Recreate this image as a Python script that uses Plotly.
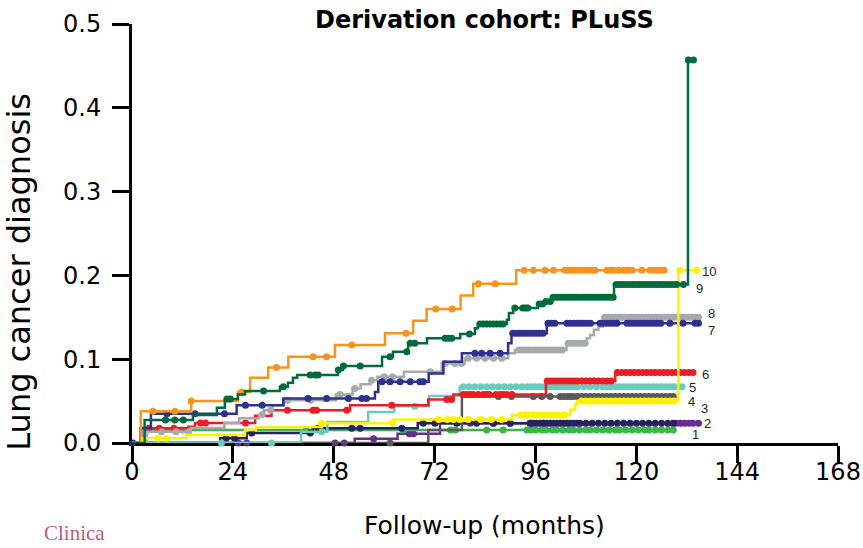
import numpy as np
import plotly.graph_objects as go

month_ticks = [0, 24, 48, 72, 96, 120, 144, 168]
risk_ticks = [0.0, 0.1, 0.2, 0.3, 0.4, 0.5]

# ---- decile 1 (green)
d1_t = [0, 3.0]
d1_y = [0, 0.0155]
d1_end = 128.8
d1_cens = [12.0, 41.5, 64.5, 75.8, 77.0, 84.4, 88.3, 94.0, 95.0, 96.0, 97.5, 98.5, 100.0, 101.0,
           102.5, 104.0, 105.0, 106.5, 108.0, 109.0, 110.5, 112.0, 113.5, 115.0, 116.0, 117.5,
           119.0, 120.5, 122.0, 123.0, 124.5, 126.0, 127.5, 128.8]

# ---- decile 2 (dark navy)
d2_t = [0, 21.0, 27.3, 43.0, 68.0]
d2_y = [0, 0.0056, 0.012, 0.0175, 0.0235]
d2_end = 128.8
d2_cens = [0.2, 22.4, 24.4, 28.5, 42.4, 44.3, 52.3, 54.3, 64.2, 69.3, 72.1, 77.3, 82.0, 86.0, 90.0,
           94.7, 95.5, 96.3, 97.1, 97.9, 98.7, 99.5, 100.3, 101.1, 101.9, 102.7, 103.5, 104.3,
           105.1, 105.9, 106.6, 108.0, 109.5, 111.0, 112.5, 114.0, 115.5, 117.0, 118.5, 120.0,
           121.5, 123.0, 124.5, 126.0, 127.5, 128.8]

# ---- extra low-risk curve (purple)
dp_t = [0, 53.0, 63.2, 73.3]
dp_y = [0, 0.005, 0.011, 0.0235]
dp_end = 134.8
dp_cens = [25.3, 27.3, 48.3, 50.5, 57.5, 66.0, 67.0, 80.5, 86.0, 90.0, 95.0, 98.0, 129.5, 130.5,
           131.5, 132.5, 133.5, 134.8]

# ---- decile 3 (yellow)
d3_t = [0, 2.5, 12.9, 26.9, 29.5, 45.1, 62.2, 90.4, 104.3, 105.4, 105.9, 130.0]
d3_y = [0, 0.0056, 0.0095, 0.0155, 0.019, 0.0235, 0.028, 0.0335, 0.040, 0.046, 0.050, 0.206]
d3_end = 135.2
d3_cens = [6.2, 8.2, 45.1, 62.0, 73.0, 75.0, 76.5, 78.0, 80.0, 83.0, 85.5, 88.0, 92.5, 93.5, 94.5,
           95.5, 96.5, 97.5, 98.5, 99.5, 100.5, 101.5, 102.5, 103.0, 107.0, 108.0, 109.0, 110.0,
           111.0, 112.0, 113.0, 114.0, 115.0, 116.0, 117.0, 118.0, 119.0, 120.0, 121.0, 122.0,
           123.0, 124.0, 125.0, 126.0, 127.0, 128.0, 129.0, 130.4, 134.4]

# ---- decile 4 (dark grey)
d4_t = [0, 70.5, 78.5]
d4_y = [0, 0.0155, 0.0555]
d4_end = 128.8
d4_cens = [61.4, 87.2, 90.3, 95.5, 97.5, 99.5, 101.9, 102.7, 103.5, 104.3, 105.1, 106.0, 107.0,
           108.0, 109.0, 110.0, 111.0, 112.0, 113.0, 114.0, 115.0, 116.0, 117.0, 118.0, 119.0,
           120.0, 121.0, 122.0, 123.0, 124.0, 125.0, 126.0, 127.0, 128.0, 128.8]

# ---- decile 5 (teal)
d5_t = [0, 40.2, 46.5, 56.2, 62.4, 70.7, 78.0]
d5_y = [0, 0.0135, 0.025, 0.037, 0.044, 0.056, 0.067]
d5_end = 130.9
d5_cens = [21.3, 33.2, 45.2, 67.3, 78.8, 80.2, 81.6, 83.0, 84.4, 85.8, 87.2, 88.6, 90.0, 91.4,
           92.8, 94.0, 95.0, 96.0, 97.0, 98.0, 99.0, 100.0, 101.0, 102.0, 103.0, 104.0, 105.0,
           106.0, 107.5, 109.0, 110.5, 112.0, 113.0, 114.0, 115.0, 116.0, 117.0, 118.0, 119.0,
           120.0, 121.0, 122.0, 123.0, 124.0, 125.0, 126.0, 127.0, 128.0, 129.0, 130.0, 130.9]

# ---- decile 6 (red)
d6_t = [0, 2.0, 13.4, 15.0, 29.3, 33.2, 51.9, 70.5, 76.5, 98.5, 115.0]
d6_y = [0, 0.0175, 0.0195, 0.024, 0.0326, 0.039, 0.045, 0.052, 0.058, 0.074, 0.084]
d6_end = 133.5
d6_cens = [4.0, 6.5, 10.0, 16.3, 17.5, 27.0, 37.0, 43.1, 43.9, 51.1, 61.8, 74.9, 76.0, 78.8, 79.6,
           80.4, 81.2, 82.4, 83.6, 84.4, 85.0, 86.6, 87.6, 88.3, 89.2, 90.4, 98.8, 99.6, 100.4,
           101.2, 102.0, 102.8, 103.6, 104.4, 105.2, 106.0, 107.0, 108.0, 109.0, 110.0, 111.0,
           112.0, 113.0, 114.0, 115.5, 116.5, 117.5, 118.5, 119.5, 120.5, 121.5, 122.5, 123.5,
           124.5, 125.5, 126.5, 127.5, 128.5, 129.5, 130.5, 131.5, 132.5, 133.5]

# ---- decile 7 (navy)
d7_t = [0, 2.2, 4.5, 24.9, 36.0, 57.8, 58.6, 70.6, 74.1, 78.5, 89.5, 90.3, 98.7]
d7_y = [0, 0.018, 0.035, 0.045, 0.053, 0.061, 0.073, 0.083, 0.097, 0.107, 0.119, 0.131, 0.143]
d7_end = 134.8
d7_cens = [8.3, 15.0, 22.0, 27.0, 31.0, 41.9, 46.3, 51.5, 54.7, 55.8, 59.5, 61.4, 63.8, 66.2, 68.5,
           69.3, 81.6, 83.2, 85.2, 87.6, 90.6, 91.4, 92.2, 93.0, 93.8, 94.6, 95.4, 96.2, 97.0,
           97.8, 99.0, 99.8, 100.6, 103.5, 104.3, 105.1, 105.9, 106.7, 107.5, 108.3, 109.1,
           111.4, 112.2, 113.0, 113.8, 114.6, 115.4, 117.8, 118.6, 119.4, 120.2, 121.0, 121.8,
           122.6, 123.4, 124.2, 125.0, 125.8, 128.0, 131.1, 134.0, 134.8]

# ---- decile 8 (light grey)
d8_t = [0, 3.5, 14.0, 22.0, 25.5, 30.2, 31.4, 33.5, 36.2, 48.5, 52.5, 54.4, 56.8, 58.4, 64.7,
        73.7, 79.2, 89.5, 91.1, 103.4, 108.2, 109.0, 109.9, 111.0, 112.0]
d8_y = [0, 0.0135, 0.018, 0.024, 0.0295, 0.034, 0.039, 0.045, 0.051, 0.058, 0.065, 0.070, 0.075,
        0.079, 0.085, 0.095, 0.101, 0.107, 0.111, 0.119, 0.125, 0.129, 0.135, 0.139, 0.150]
d8_end = 134.8
d8_cens = [7.0, 10.5, 13.5, 31.0, 33.0, 37.0, 42.5, 49.5, 53.0, 57.0, 60.0, 62.0, 71.0, 74.5, 76.8,
           78.4, 80.0, 82.0, 84.0, 86.0, 88.0, 92.0, 92.8, 93.6, 94.4, 95.2, 96.0, 96.8, 97.6,
           98.4, 99.2, 100.0, 100.8, 101.6, 102.4, 103.8, 104.6, 105.4, 106.2, 107.0, 107.8,
           112.5, 113.3, 114.1, 114.9, 115.7, 116.5, 117.3, 118.1, 118.9, 119.7, 120.5, 121.3,
           122.1, 122.9, 123.7, 124.5, 125.3, 126.1, 126.9, 127.7, 128.5, 129.3, 130.1, 130.9,
           131.7, 132.5, 133.3, 134.1, 134.8]

# ---- decile 9 (dark green)
d9_t = [0, 3.0, 14.5, 20.2, 22.1, 25.2, 26.9, 35.2, 37.1, 38.3, 39.3, 49.0, 50.2, 59.5, 62.1,
        65.7, 70.2, 78.1, 81.6, 82.3, 89.2, 89.7, 90.7, 96.6, 98.3, 100.0, 114.7, 132.3]
d9_y = [0, 0.0274, 0.0334, 0.042, 0.0525, 0.058, 0.062, 0.067, 0.072, 0.078, 0.081, 0.087, 0.092,
        0.103, 0.109, 0.119, 0.125, 0.130, 0.137, 0.142, 0.147, 0.155, 0.161, 0.166, 0.169,
        0.174, 0.189, 0.457]
d9_end = 133.6
d9_cens = [8.0, 10.2, 12.2, 22.6, 23.4, 31.3, 36.0, 42.4, 43.6, 44.3, 49.1, 50.3, 54.3, 61.4, 65.4,
           66.2, 67.3, 74.5, 75.3, 76.1, 80.3, 82.8, 83.6, 84.4, 85.2, 86.0, 86.8, 87.6, 88.3,
           91.1, 93.0, 93.6, 94.2, 96.9, 97.7, 98.5, 99.5, 100.2, 101.0, 101.8, 102.6, 103.4,
           104.2, 105.0, 105.8, 106.6, 107.4, 108.2, 109.0, 109.8, 110.6, 111.4, 112.2, 113.0,
           113.8, 114.5, 115.2, 116.0, 116.8, 117.6, 118.4, 119.2, 120.0, 120.8, 121.6, 122.4,
           123.2, 124.0, 124.8, 125.6, 126.4, 127.2, 128.0, 128.8, 129.6, 131.2, 132.4, 133.6]

# ---- decile 10 (orange)
d10_t = [0, 2.1, 14.1, 25.2, 28.1, 32.4, 37.2, 48.3, 60.2, 66.9, 70.1, 78.2, 81.2, 91.4]
d10_y = [0, 0.038, 0.050, 0.061, 0.078, 0.090, 0.103, 0.117, 0.131, 0.146, 0.160, 0.176, 0.190,
         0.206]
d10_end = 126.8
d10_cens = [5.0, 10.2, 14.1, 26.1, 34.4, 43.1, 46.3, 52.3, 65.2, 72.3, 76.2, 82.4, 86.4, 93.3,
            95.5, 98.3, 100.3, 103.0, 103.8, 104.6, 105.4, 106.2, 107.0, 107.8, 108.6, 109.4,
            110.2, 113.0, 113.8, 114.6, 115.8, 117.0, 118.0, 119.0, 121.3, 123.3, 124.2, 125.0,
            125.8, 126.6]

# end-of-curve labels
label_text = ["10", "9", "8", "7", "6", "5", "4", "3", "2", "1"]
label_x = [135.2, 133.7, 136.5, 136.5, 135.2, 132.0, 131.8, 135.0, 135.6, 132.8]
label_y = [0.2044, 0.184, 0.154, 0.134, 0.0823, 0.0668, 0.0501, 0.0406, 0.0227, 0.0107]

series = [
    (dp_t, dp_y, dp_end, dp_cens, "#662D91"),
    (d1_t, d1_y, d1_end, d1_cens, "#39B54A"),
    (d2_t, d2_y, d2_end, d2_cens, "#262262"),
    (d4_t, d4_y, d4_end, d4_cens, "#58595B"),
    (d5_t, d5_y, d5_end, d5_cens, "#6CCBBF"),
    (d6_t, d6_y, d6_end, d6_cens, "#ED1C24"),
    (d8_t, d8_y, d8_end, d8_cens, "#A7A9AC"),
    (d7_t, d7_y, d7_end, d7_cens, "#2E3192"),
    (d10_t, d10_y, d10_end, d10_cens, "#F7941D"),
    (d3_t, d3_y, d3_end, d3_cens, "#FFF200"),
    (d9_t, d9_y, d9_end, d9_cens, "#006B3C"),
]

fig = go.Figure()
for t, y, end, cens, color in series:
    xs = list(t) + [end]
    ys = list(y) + [y[-1]]
    fig.add_trace(go.Scatter(x=xs, y=ys, mode="lines", line=dict(shape="hv", color=color, width=2.5),
                             showlegend=False, hoverinfo="skip", cliponaxis=False))
    ta = np.array(t)
    ya = np.array(y)
    idx = np.searchsorted(ta, np.array(cens), side="right") - 1
    fig.add_trace(go.Scatter(x=cens, y=ya[idx], mode="markers",
                             marker=dict(color=color, size=7, line=dict(width=0)),
                             showlegend=False, hoverinfo="skip", cliponaxis=False))

FONT = "DejaVu Sans"
annotations = []
for txt, lx, ly in zip(label_text, label_x, label_y):
    annotations.append(dict(x=lx, y=ly, xref="x", yref="y", text=txt, showarrow=False,
                            xanchor="left", yanchor="middle",
                            font=dict(family="Liberation Sans", size=13, color="#231F20")))

annotations += [
    dict(x=0.4986, y=1.0095, xref="paper", yref="paper", text="<b>Derivation cohort: PLuSS</b>",
         showarrow=False, xanchor="center", yanchor="middle",
         font=dict(family=FONT, size=24, color="black")),
    dict(x=0.4986, y=-0.197, xref="paper", yref="paper", text="Follow-up (months)",
         showarrow=False, xanchor="center", yanchor="middle",
         font=dict(family=FONT, size=25, color="black")),
    dict(x=-0.16, y=0.409, xref="paper", yref="paper", text="Lung cancer diagnosis",
         showarrow=False, xanchor="center", yanchor="middle", textangle=-90,
         font=dict(family=FONT, size=32, color="black")),
    dict(x=-0.127, y=-0.2485, xref="paper", yref="paper", text="Clinica",
         showarrow=False, xanchor="left", yanchor="bottom", opacity=0.75,
         font=dict(family="Liberation Serif", size=21, color="#9E2A4E")),
]

axis_common = dict(showline=True, linewidth=3, linecolor="black", ticks="outside", ticklen=17,
                   tickwidth=3, tickcolor="black", showgrid=False, zeroline=False,
                   automargin=False, layer="below traces",
                   tickfont=dict(family=FONT, size=24, color="black"))

fig.update_layout(
    width=863, height=548, autosize=False,
    margin=dict(l=132, r=25, t=24, b=105),
    plot_bgcolor="white", paper_bgcolor="white",
    xaxis=dict(range=[0, 168], tickvals=month_ticks, ticktext=[str(v) for v in month_ticks],
               ticklabelstandoff=-12, **axis_common),
    yaxis=dict(range=[0, 0.5], tickvals=risk_ticks, ticktext=["%.1f" % v for v in risk_ticks],
               ticklabelstandoff=6, **axis_common),
    annotations=annotations,
)

fig.write_html("out.html")
